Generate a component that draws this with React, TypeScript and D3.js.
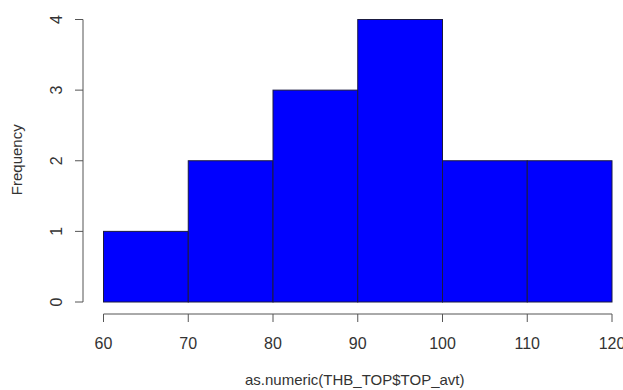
import React, { useEffect, useRef } from 'react'
import * as d3 from 'd3'

// histogram bins (lower edge, upper edge) and counts
const binStarts = [60, 70, 80, 90, 100, 110]
const binEnds = [70, 80, 90, 100, 110, 120]
const counts = [1, 2, 3, 4, 2, 2]
const xTicks = [60, 70, 80, 90, 100, 110, 120]
const yTicks = [0, 1, 2, 3, 4]

const W = 623
const H = 390

function App() {
	const ref = useRef<SVGSVGElement>(null)

	useEffect(() => {
		const svg = d3.select(ref.current)
		svg.selectAll('*').remove()

		const x = d3.scaleLinear().domain([60, 120]).range([103.5, 612])
		const y = d3.scaleLinear().domain([0, 4]).range([302, 19.5])

		const bins = binStarts.map((s, i) => ({ x0: s, x1: binEnds[i], n: counts[i] }))

		svg.append('g')
			.selectAll('rect')
			.data(bins)
			.enter()
			.append('rect')
			.attr('x', d => x(d.x0))
			.attr('y', d => y(d.n))
			.attr('width', d => x(d.x1) - x(d.x0))
			.attr('height', d => y(0) - y(d.n))
			.attr('fill', '#0000ff')
			.attr('stroke', '#1a1a40')
			.attr('stroke-width', 1)

		// x axis
		const xg = svg.append('g').attr('transform', 'translate(0,314)')
		xg.append('line')
			.attr('x1', x(60)).attr('x2', x(120))
			.attr('stroke', '#555')
		xg.selectAll('line.tick')
			.data(xTicks)
			.enter()
			.append('line')
			.attr('class', 'tick')
			.attr('x1', d => x(d)).attr('x2', d => x(d))
			.attr('y1', 0).attr('y2', 8)
			.attr('stroke', '#555')
		xg.selectAll('text')
			.data(xTicks)
			.enter()
			.append('text')
			.attr('x', d => x(d))
			.attr('y', 35)
			.attr('text-anchor', 'middle')
			.attr('font-size', 16)
			.attr('fill', '#333')
			.text(d => d)

		// y axis
		const yg = svg.append('g').attr('transform', 'translate(83,0)')
		yg.append('line')
			.attr('y1', y(0)).attr('y2', y(4))
			.attr('stroke', '#555')
		yg.selectAll('line.tick')
			.data(yTicks)
			.enter()
			.append('line')
			.attr('class', 'tick')
			.attr('x1', 0).attr('x2', -8)
			.attr('y1', d => y(d)).attr('y2', d => y(d))
			.attr('stroke', '#555')
		yg.selectAll('text')
			.data(yTicks)
			.enter()
			.append('text')
			.attr('transform', d => 'translate(-27,' + y(d) + ') rotate(-90)')
			.attr('text-anchor', 'middle')
			.attr('dy', '0.35em')
			.attr('font-size', 16)
			.attr('fill', '#333')
			.text(d => d)

		svg.append('text')
			.attr('x', x(90) - 3)
			.attr('y', 385)
			.attr('text-anchor', 'middle')
			.attr('font-size', 15)
			.attr('fill', '#333')
			.text('as.numeric(THB_TOP$TOP_avt)')

		svg.append('text')
			.attr('transform', 'translate(22,' + (y(2) - 1) + ') rotate(-90)')
			.attr('text-anchor', 'middle')
			.attr('font-size', 15)
			.attr('fill', '#333')
			.text('Frequency')
	}, [])

	return (
		<svg
			ref={ref}
			width={W}
			height={H}
			style={{ position: 'absolute', left: 0, top: 0, background: '#fff', fontFamily: 'Liberation Sans, Arial, sans-serif' }}
		/>
	)
}

export default App
